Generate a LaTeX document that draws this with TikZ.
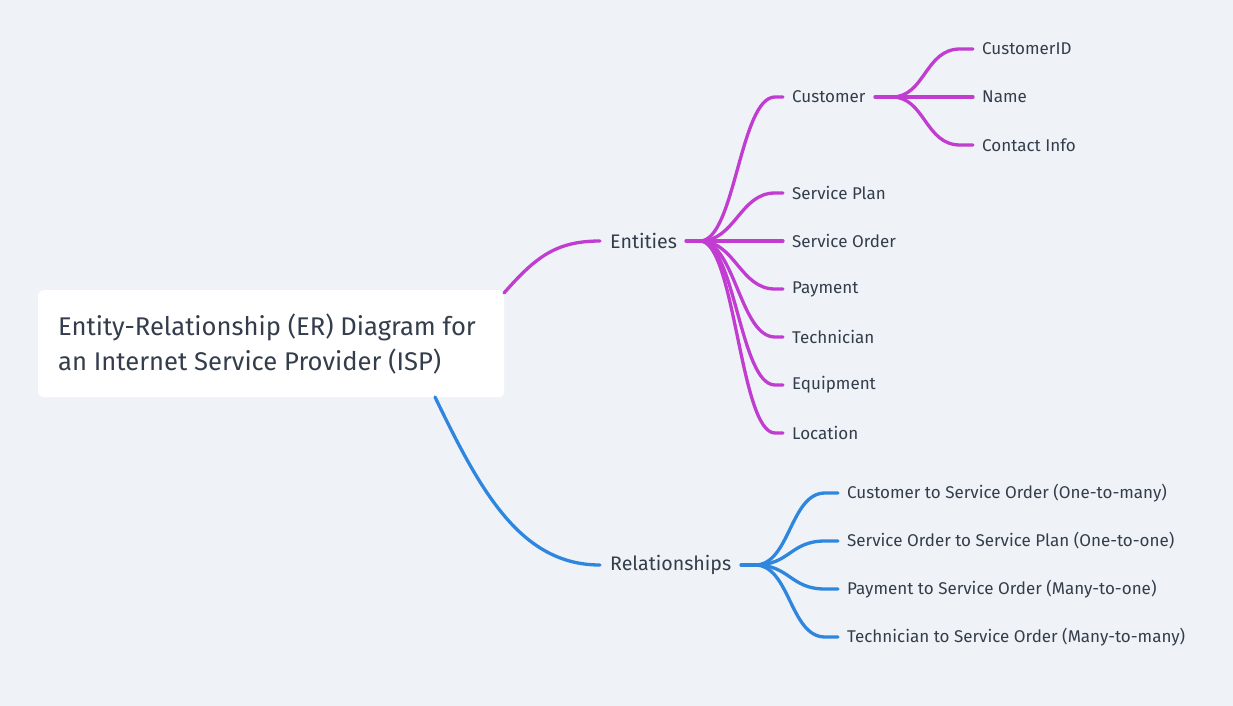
\documentclass[tikz,border=0pt]{standalone}
\usepackage{fontspec}
\setmainfont{Fira Sans}
\definecolor{bg}{HTML}{EFF3F7}
\definecolor{txt}{HTML}{333D4B}
\definecolor{mag}{HTML}{C13DD1}
\definecolor{blu}{HTML}{2E86DE}
\begin{document}
\begin{tikzpicture}[x=1pt,y=-1pt,
  leaf/.style={anchor=west,inner sep=0pt,text=txt,font=\fontsize{17}{20}\selectfont},
  mid/.style={anchor=west,inner sep=0pt,text=txt,font=\fontsize{19.6}{22}\selectfont},
  mline/.style={draw=mag,line width=3.3pt,line cap=round},
  bline/.style={draw=blu,line width=3.3pt,line cap=round}]
\useasboundingbox (0,0) rectangle (1233,706);
\fill[bg] (0,0) rectangle (1233,706);
% root
\node[fill=white,rounded corners=5pt,minimum width=466pt,minimum height=107pt,anchor=north west,inner sep=0pt] (root) at (38,290) {};
\node[anchor=west,inner sep=0pt,text=txt,align=left,font=\fontsize{25.6}{35}\selectfont] (roott) at (58,344) {Entity-Relationship (ER) Diagram for\\an Internet Service Provider (ISP)};
% mid nodes
\node[mid] (ent) at (610,241) {Entities};
\node[mid] (rel) at (610,565) {Relationships};
\coordinate (rootne) at (504,293);
\coordinate (roots) at (435,397);
\draw[mline] (rootne) .. controls (535,258) and (555,241) .. (600,241);
\draw[bline] (roots) .. controls (480,490) and (520,565) .. (600,565);
% entity leaves
\coordinate (ej) at (700,241);
\draw[mline] (686,241) -- (ej);
\foreach \n/\t/\y in {cust/Customer/97,splan/Service Plan/193,sorder/Service Order/241,pay/Payment/289,tech/Technician/337,equip/Equipment/385,loc/Location/433}{
  \node[leaf] (\n) at (792,\y) {\t};
  \draw[mline] (ej) .. controls (735,241) and (740,\y) .. (775,\y) -- (783,\y);
}
% customer attributes
\coordinate (cj) at (892,97);
\draw[mline] (875,97) -- (cj);
\foreach \n/\t/\y in {cid/CustomerID/49,cname/Name/97,cinfo/Contact Info/145}{
  \node[leaf] (\n) at (982,\y) {\t};
  \draw[mline] (cj) .. controls (925,97) and (925,\y) .. (960,\y) -- (973,\y);
}
% relationships
\coordinate (rj) at (755,565);
\draw[bline] (741,565) -- (rj);
\foreach \n/\t/\y in {r1/Customer to Service Order (One-to-many)/493,r2/Service Order to Service Plan (One-to-one)/541,r3/Payment to Service Order (Many-to-one)/589,r4/Technician to Service Order (Many-to-many)/637}{
  \node[leaf] (\n) at (847,\y) {\t};
  \draw[bline] (rj) .. controls (790,565) and (790,\y) .. (825,\y) -- (838,\y);
}
\end{tikzpicture}
\end{document}
